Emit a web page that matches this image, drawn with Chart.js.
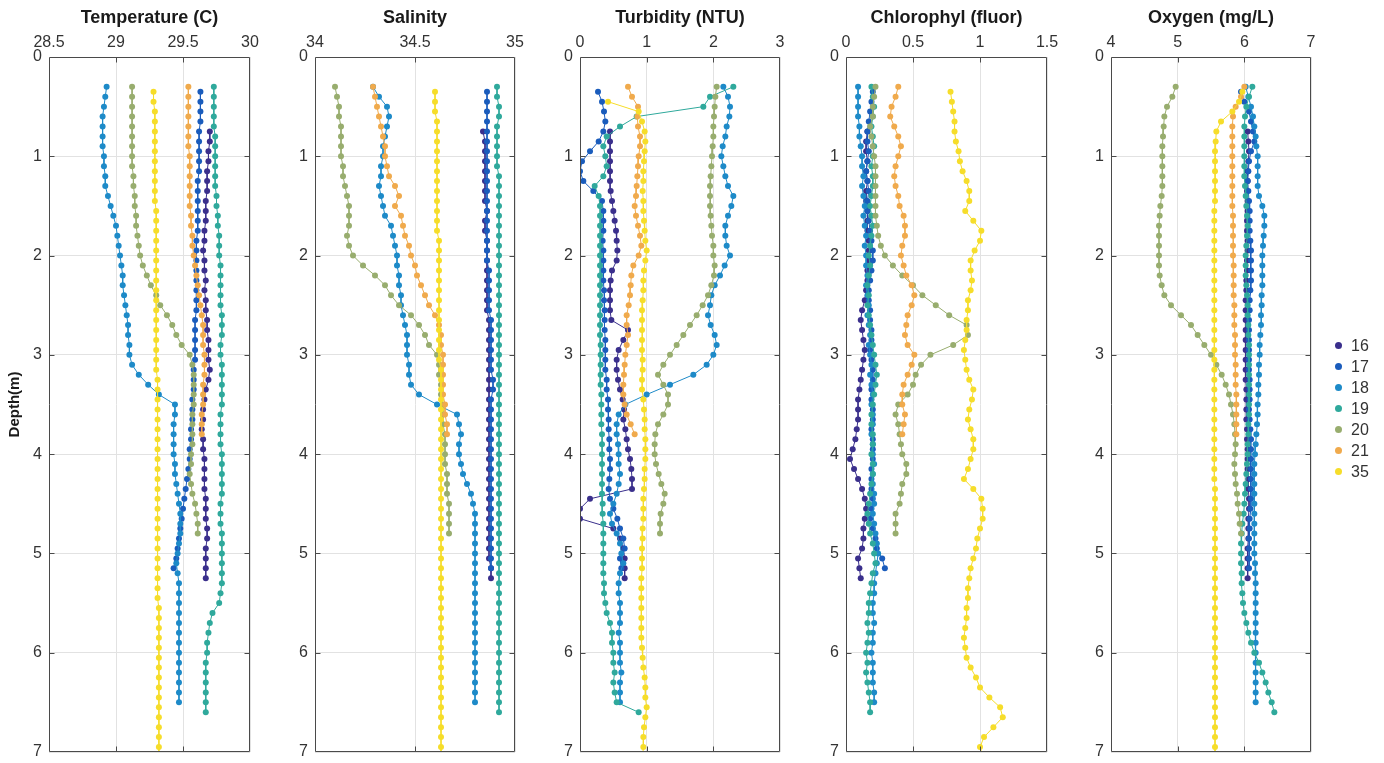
<!DOCTYPE html>
<html><head><meta charset="utf-8">
<script src="https://cdn.jsdelivr.net/npm/chart.js@4.4.1/dist/chart.umd.min.js"></script>
<style>
html,body{margin:0;padding:0;background:#fff;}
body{width:1384px;height:763px;position:relative;overflow:hidden;font-family:"Liberation Sans",Arial,sans-serif;}
canvas.pc{position:absolute;top:0;}
#legend{position:absolute;left:1330px;top:334.5px;}
.li{height:21px;line-height:21px;font-size:16px;color:#333;position:relative;padding-left:21px;white-space:nowrap;}
.li .dot{position:absolute;left:4.5px;top:7px;width:7px;height:7px;border-radius:50%;}
</style></head><body>
<canvas class="pc" id="c0"></canvas>
<canvas class="pc" id="c1"></canvas>
<canvas class="pc" id="c2"></canvas>
<canvas class="pc" id="c3"></canvas>
<canvas class="pc" id="c4"></canvas>
<div id="legend"></div>
<script>
// ---------- stations / depths ----------
const stations = ['16','17','18','19','20','21','35'];
const stationColors = ['#3a2f8c','#1a5cbc','#1d8ac8','#2fa99c','#98ad6e','#f0aa4c','#f6dd2a'];

const d16 = [0.75,0.85,0.95,1.05,1.15,1.25,1.35,1.45,1.55,1.65,1.75,1.85,1.95,2.05,2.15,2.25,2.35,2.45,2.55,2.65,2.75,2.85,2.95,3.05,3.15,3.25,3.35,3.45,3.55,3.65,3.75,3.85,3.95,4.05,4.15,4.25,4.35,4.45,4.55,4.65,4.75,4.85,4.95,5.05,5.15,5.25];
const d17 = [0.35,0.45,0.55,0.65,0.75,0.85,0.95,1.05,1.15,1.25,1.35,1.45,1.55,1.65,1.75,1.85,1.95,2.05,2.15,2.25,2.35,2.45,2.55,2.65,2.75,2.85,2.95,3.05,3.15,3.25,3.35,3.45,3.55,3.65,3.75,3.85,3.95,4.05,4.15,4.25,4.35,4.45,4.55,4.65,4.75,4.85,4.95,5.05,5.15];
const d18 = [0.3,0.4,0.5,0.6,0.7,0.8,0.9,1.0,1.1,1.2,1.3,1.4,1.5,1.6,1.7,1.8,1.9,2.0,2.1,2.2,2.3,2.4,2.5,2.6,2.7,2.8,2.9,3.0,3.1,3.2,3.3,3.4,3.5,3.6,3.7,3.8,3.9,4.0,4.1,4.2,4.3,4.4,4.5,4.6,4.7,4.8,4.9,5.0,5.1,5.2,5.3,5.4,5.5,5.6,5.7,5.8,5.9,6.0,6.1,6.2,6.3,6.4,6.5];
const d19 = [0.3,0.4,0.5,0.6,0.7,0.8,0.9,1.0,1.1,1.2,1.3,1.4,1.5,1.6,1.7,1.8,1.9,2.0,2.1,2.2,2.3,2.4,2.5,2.6,2.7,2.8,2.9,3.0,3.1,3.2,3.3,3.4,3.5,3.6,3.7,3.8,3.9,4.0,4.1,4.2,4.3,4.4,4.5,4.6,4.7,4.8,4.9,5.0,5.1,5.2,5.3,5.4,5.5,5.6,5.7,5.8,5.9,6.0,6.1,6.2,6.3,6.4,6.5,6.6];
const d20 = [0.3,0.4,0.5,0.6,0.7,0.8,0.9,1.0,1.1,1.2,1.3,1.4,1.5,1.6,1.7,1.8,1.9,2.0,2.1,2.2,2.3,2.4,2.5,2.6,2.7,2.8,2.9,3.0,3.1,3.2,3.3,3.4,3.5,3.6,3.7,3.8,3.9,4.0,4.1,4.2,4.3,4.4,4.5,4.6,4.7,4.8];
const d21 = [0.3,0.4,0.5,0.6,0.7,0.8,0.9,1.0,1.1,1.2,1.3,1.4,1.5,1.6,1.7,1.8,1.9,2.0,2.1,2.2,2.3,2.4,2.5,2.6,2.7,2.8,2.9,3.0,3.1,3.2,3.3,3.4,3.5,3.6,3.7,3.8];
const d35 = [0.35,0.45,0.55,0.65,0.75,0.85,0.95,1.05,1.15,1.25,1.35,1.45,1.55,1.65,1.75,1.85,1.95,2.05,2.15,2.25,2.35,2.45,2.55,2.65,2.75,2.85,2.95,3.05,3.15,3.25,3.35,3.45,3.55,3.65,3.75,3.85,3.95,4.05,4.15,4.25,4.35,4.45,4.55,4.65,4.75,4.85,4.95,5.05,5.15,5.25,5.35,5.45,5.55,5.65,5.75,5.85,5.95,6.05,6.15,6.25,6.35,6.45,6.55,6.65,6.75,6.85,6.95,7.05];
const stationDepths = [d16,d17,d18,d19,d20,d21,d35];

// ---------- Temperature (C) ----------
const T16 = [29.70,29.70,29.69,29.69,29.68,29.68,29.68,29.67,29.67,29.67,29.66,29.66,29.65,29.66,29.66,29.67,29.66,29.67,29.67,29.68,29.68,29.69,29.69,29.69,29.70,29.69,29.67,29.66,29.65,29.65,29.64,29.65,29.65,29.66,29.66,29.66,29.66,29.67,29.67,29.67,29.68,29.68,29.67,29.67,29.67,29.67];
const T17 = [29.63,29.63,29.63,29.63,29.62,29.62,29.62,29.62,29.62,29.61,29.61,29.61,29.61,29.61,29.61,29.60,29.60,29.60,29.60,29.60,29.60,29.60,29.60,29.59,29.59,29.59,29.59,29.59,29.58,29.58,29.58,29.57,29.57,29.57,29.56,29.56,29.55,29.55,29.54,29.53,29.52,29.51,29.50,29.49,29.48,29.47,29.46,29.45,29.43];
const T18 = [28.93,28.92,28.91,28.90,28.90,28.90,28.90,28.91,28.91,28.92,28.92,28.94,28.96,28.98,29.00,29.01,29.02,29.03,29.04,29.05,29.05,29.06,29.07,29.08,29.09,29.09,29.10,29.10,29.12,29.17,29.24,29.32,29.44,29.44,29.43,29.43,29.43,29.43,29.44,29.44,29.45,29.46,29.47,29.48,29.48,29.48,29.47,29.46,29.45,29.46,29.47,29.47,29.47,29.47,29.47,29.47,29.47,29.47,29.47,29.47,29.47,29.47,29.47];
const T19 = [29.73,29.73,29.73,29.73,29.73,29.74,29.74,29.74,29.74,29.74,29.74,29.75,29.75,29.76,29.76,29.77,29.77,29.77,29.78,29.78,29.78,29.78,29.78,29.79,29.79,29.79,29.78,29.78,29.79,29.79,29.79,29.79,29.79,29.78,29.78,29.78,29.78,29.79,29.79,29.79,29.79,29.79,29.78,29.78,29.78,29.79,29.79,29.79,29.79,29.79,29.79,29.78,29.77,29.72,29.70,29.69,29.68,29.68,29.67,29.67,29.67,29.67,29.67,29.67];
const T20 = [29.12,29.12,29.12,29.12,29.12,29.12,29.12,29.12,29.12,29.13,29.13,29.14,29.14,29.15,29.15,29.16,29.17,29.18,29.20,29.23,29.26,29.30,29.33,29.38,29.42,29.45,29.49,29.55,29.57,29.58,29.58,29.58,29.58,29.57,29.57,29.57,29.57,29.56,29.56,29.55,29.56,29.57,29.59,29.60,29.61,29.61];
const T21 = [29.54,29.54,29.54,29.54,29.54,29.54,29.54,29.55,29.55,29.55,29.55,29.55,29.55,29.56,29.56,29.57,29.57,29.58,29.59,29.60,29.61,29.62,29.63,29.64,29.65,29.65,29.65,29.66,29.66,29.66,29.65,29.65,29.65,29.64,29.64,29.64];
const T35 = [29.28,29.28,29.29,29.29,29.29,29.29,29.29,29.29,29.29,29.29,29.29,29.29,29.30,29.30,29.30,29.30,29.30,29.30,29.30,29.30,29.30,29.30,29.30,29.30,29.30,29.30,29.30,29.30,29.30,29.31,29.31,29.31,29.31,29.31,29.31,29.31,29.31,29.31,29.31,29.31,29.31,29.31,29.31,29.31,29.31,29.31,29.31,29.31,29.31,29.31,29.31,29.31,29.32,29.32,29.32,29.32,29.32,29.32,29.32,29.32,29.32,29.32,29.32,29.32,29.32,29.32,29.32,29.32];

// ---------- Salinity ----------
const S16 = [34.84,34.85,34.85,34.85,34.85,34.85,34.85,34.85,34.86,34.85,34.85,34.86,34.86,34.86,34.86,34.86,34.86,34.86,34.86,34.87,34.87,34.87,34.87,34.87,34.87,34.87,34.87,34.87,34.87,34.87,34.87,34.87,34.87,34.87,34.87,34.87,34.87,34.87,34.87,34.87,34.87,34.87,34.87,34.87,34.88,34.88];
const S17 = [34.86,34.86,34.86,34.86,34.86,34.86,34.86,34.86,34.86,34.86,34.86,34.86,34.86,34.86,34.86,34.86,34.86,34.86,34.87,34.87,34.87,34.87,34.87,34.88,34.88,34.88,34.88,34.88,34.88,34.89,34.89,34.88,34.88,34.88,34.88,34.88,34.88,34.88,34.88,34.88,34.88,34.88,34.88,34.88,34.88,34.88,34.88,34.88,34.88];
const S18 = [34.29,34.32,34.36,34.37,34.36,34.35,34.34,34.34,34.33,34.33,34.32,34.33,34.34,34.35,34.38,34.39,34.40,34.41,34.41,34.42,34.42,34.43,34.43,34.44,34.45,34.46,34.46,34.46,34.47,34.47,34.48,34.52,34.61,34.71,34.72,34.73,34.72,34.72,34.73,34.74,34.76,34.78,34.79,34.80,34.80,34.80,34.80,34.80,34.80,34.80,34.80,34.80,34.80,34.80,34.80,34.80,34.80,34.80,34.80,34.80,34.80,34.80,34.80];
const S19 = [34.91,34.91,34.92,34.92,34.91,34.91,34.91,34.91,34.91,34.92,34.92,34.92,34.92,34.92,34.92,34.92,34.92,34.92,34.92,34.92,34.92,34.92,34.92,34.92,34.92,34.92,34.92,34.92,34.92,34.92,34.92,34.92,34.92,34.92,34.92,34.92,34.92,34.92,34.92,34.92,34.92,34.92,34.92,34.92,34.92,34.92,34.92,34.92,34.92,34.92,34.92,34.92,34.92,34.92,34.92,34.92,34.92,34.92,34.92,34.92,34.92,34.92,34.92,34.92];
const S20 = [34.10,34.11,34.12,34.12,34.13,34.13,34.13,34.13,34.14,34.14,34.15,34.16,34.17,34.17,34.17,34.16,34.17,34.19,34.24,34.30,34.35,34.38,34.42,34.48,34.52,34.55,34.57,34.61,34.62,34.62,34.63,34.63,34.64,34.64,34.64,34.65,34.65,34.65,34.65,34.66,34.66,34.66,34.67,34.67,34.67,34.67];
const S21 = [34.29,34.30,34.31,34.32,34.33,34.34,34.35,34.35,34.36,34.37,34.40,34.42,34.40,34.43,34.44,34.45,34.47,34.48,34.50,34.51,34.53,34.55,34.57,34.60,34.62,34.63,34.63,34.64,34.64,34.64,34.64,34.64,34.65,34.65,34.66,34.66];
const S35 = [34.60,34.60,34.60,34.61,34.61,34.61,34.61,34.61,34.61,34.61,34.61,34.61,34.61,34.61,34.61,34.62,34.62,34.62,34.62,34.62,34.62,34.62,34.62,34.62,34.62,34.62,34.62,34.62,34.63,34.63,34.63,34.63,34.63,34.63,34.63,34.63,34.63,34.63,34.63,34.63,34.63,34.63,34.63,34.63,34.63,34.63,34.63,34.63,34.63,34.63,34.63,34.63,34.63,34.63,34.63,34.63,34.63,34.63,34.63,34.63,34.63,34.63,34.63,34.63,34.63,34.63,34.63,34.63];

// ---------- Turbidity (NTU) ----------
const U16 = [0.45,0.45,0.45,0.45,0.45,0.45,0.46,0.48,0.50,0.52,0.54,0.55,0.56,0.55,0.48,0.46,0.45,0.45,0.45,0.47,0.72,0.65,0.58,0.55,0.55,0.57,0.60,0.64,0.66,0.65,0.68,0.70,0.72,0.75,0.77,0.78,0.78,0.15,0.00,0.00,0.50,0.60,0.65,0.67,0.67,0.67];
const U17 = [0.27,0.33,0.36,0.38,0.35,0.28,0.15,0.03,0.00,0.05,0.20,0.33,0.35,0.35,0.35,0.34,0.35,0.35,0.35,0.35,0.36,0.36,0.37,0.37,0.37,0.38,0.38,0.38,0.38,0.40,0.40,0.42,0.42,0.43,0.43,0.44,0.44,0.45,0.45,0.44,0.43,0.45,0.50,0.56,0.60,0.65,0.67,0.60,0.62];
const U18 = [2.15,2.22,2.25,2.24,2.20,2.18,2.14,2.12,2.15,2.18,2.22,2.30,2.27,2.22,2.18,2.18,2.20,2.25,2.17,2.10,2.02,1.97,1.95,1.92,1.96,2.02,2.05,2.00,1.90,1.70,1.35,1.00,0.68,0.58,0.55,0.55,0.57,0.58,0.58,0.60,0.58,0.55,0.50,0.45,0.48,0.55,0.60,0.62,0.65,0.60,0.58,0.58,0.60,0.60,0.60,0.58,0.60,0.60,0.60,0.62,0.60,0.60,0.60];
const U19 = [2.30,1.95,1.85,0.85,0.60,0.40,0.35,0.38,0.40,0.35,0.22,0.28,0.30,0.30,0.30,0.30,0.30,0.30,0.30,0.30,0.30,0.30,0.30,0.30,0.30,0.30,0.31,0.31,0.31,0.31,0.31,0.32,0.32,0.32,0.32,0.33,0.33,0.33,0.33,0.33,0.33,0.33,0.34,0.34,0.35,0.35,0.35,0.35,0.35,0.35,0.36,0.36,0.38,0.40,0.45,0.48,0.48,0.50,0.50,0.52,0.50,0.52,0.55,0.88];
const U20 = [2.05,2.03,2.02,2.01,2.00,2.00,1.99,1.98,1.97,1.96,1.95,1.95,1.95,1.96,1.97,1.98,2.00,2.00,2.02,2.01,1.97,1.92,1.84,1.75,1.65,1.55,1.45,1.35,1.25,1.17,1.25,1.32,1.32,1.25,1.17,1.13,1.12,1.12,1.14,1.18,1.22,1.27,1.25,1.21,1.20,1.20];
const U21 = [0.72,0.78,0.87,0.86,0.87,0.90,0.90,0.88,0.87,0.86,0.85,0.84,0.82,0.84,0.87,0.90,0.92,0.88,0.80,0.77,0.76,0.75,0.73,0.70,0.70,0.72,0.70,0.68,0.67,0.66,0.65,0.65,0.67,0.70,0.76,0.82];
const U35 = [null,0.42,0.88,0.93,0.97,0.98,0.97,0.96,0.95,0.95,0.94,0.95,0.95,0.96,0.97,0.98,1.00,0.98,0.96,0.95,0.95,0.94,0.93,0.93,0.93,0.93,0.93,0.94,0.94,0.93,0.93,0.95,0.96,0.97,0.97,0.98,0.98,0.98,0.97,0.97,0.96,0.95,0.95,0.95,0.94,0.94,0.93,0.93,0.93,0.92,0.92,0.92,0.92,0.92,0.92,0.92,0.93,0.94,0.95,0.97,0.98,0.98,1.00,0.98,0.96,0.95,0.95,0.94];

// ---------- Chlorophyl (fluor) ----------
const C16 = [0.16,0.15,0.15,0.16,0.15,0.16,0.15,0.15,0.16,0.16,0.16,0.17,0.17,0.17,0.16,0.16,0.15,0.14,0.12,0.11,0.12,0.13,0.14,0.13,0.12,0.11,0.10,0.09,0.09,0.09,0.08,0.07,0.05,0.03,0.06,0.09,0.12,0.14,0.15,0.14,0.13,0.13,0.12,0.09,0.10,0.11];
const C17 = [0.20,0.19,0.18,0.17,0.16,0.16,0.17,0.16,0.15,0.16,0.17,0.16,0.16,0.17,0.18,0.19,0.20,0.20,0.19,0.18,0.17,0.17,0.18,0.18,0.19,0.19,0.18,0.19,0.20,0.20,0.19,0.19,0.20,0.20,0.19,0.20,0.20,0.20,0.19,0.19,0.19,0.20,0.19,0.18,0.20,0.22,0.23,0.27,0.29];
const C18 = [0.09,0.09,0.09,0.09,0.10,0.10,0.11,0.12,0.12,0.13,0.12,0.13,0.14,0.13,0.14,0.15,0.14,0.15,0.15,0.16,0.15,0.16,0.17,0.16,0.17,0.18,0.17,0.18,0.19,0.18,0.19,0.20,0.19,0.20,0.20,0.19,0.20,0.20,0.21,0.20,0.20,0.21,0.21,0.20,0.21,0.22,0.23,0.24,0.23,0.22,0.21,0.21,0.20,0.20,0.21,0.20,0.20,0.19,0.20,0.20,0.20,0.21,0.21];
const C19 = [0.19,0.20,0.21,0.20,0.19,0.20,0.21,0.20,0.19,0.20,0.20,0.19,0.18,0.19,0.20,0.19,0.18,0.17,0.18,0.17,0.16,0.17,0.16,0.17,0.18,0.19,0.20,0.21,0.22,0.23,0.22,0.21,0.20,0.19,0.19,0.20,0.20,0.19,0.20,0.20,0.19,0.18,0.17,0.16,0.17,0.18,0.20,0.21,0.22,0.20,0.19,0.18,0.17,0.17,0.16,0.17,0.16,0.15,0.16,0.15,0.16,0.17,0.18,0.18];
const C20 = [0.22,0.21,0.20,0.20,0.18,0.19,0.20,0.21,0.22,0.22,0.22,0.22,0.22,0.22,0.23,0.24,0.26,0.29,0.35,0.42,0.50,0.57,0.67,0.77,0.90,0.91,0.80,0.63,0.56,0.52,0.50,0.46,0.39,0.37,0.39,0.40,0.41,0.42,0.45,0.45,0.42,0.41,0.40,0.37,0.37,0.37];
const C21 = [0.39,0.37,0.34,0.33,0.36,0.39,0.41,0.39,0.37,0.36,0.37,0.39,0.40,0.43,0.44,0.44,0.42,0.41,0.43,0.45,0.49,0.51,0.49,0.46,0.45,0.44,0.46,0.51,0.49,0.46,0.43,0.42,0.42,0.44,0.43,0.42];
const C35 = [0.78,0.79,0.80,0.81,0.81,0.82,0.84,0.85,0.87,0.90,0.92,0.92,0.89,0.95,1.01,1.00,0.96,0.93,0.93,0.94,0.93,0.91,0.91,0.90,0.90,0.89,0.88,0.89,0.90,0.92,0.95,0.94,0.92,0.91,0.93,0.95,0.95,0.93,0.91,0.88,0.95,1.01,1.02,1.02,1.00,0.98,0.97,0.95,0.93,0.92,0.91,0.91,0.90,0.90,0.89,0.88,0.89,0.90,0.93,0.97,1.00,1.07,1.15,1.17,1.10,1.03,1.00,1.02];

// ---------- Oxygen (mg/L) ----------
const O16 = [6.05,6.06,6.07,6.06,6.05,6.05,6.04,6.05,6.05,6.04,6.04,6.05,6.05,6.04,6.04,6.03,6.03,6.02,6.02,6.02,6.02,6.02,6.02,6.02,6.02,6.02,6.03,6.03,6.03,6.03,6.04,6.04,6.05,6.05,6.05,6.06,6.06,6.07,6.07,6.06,6.06,6.06,6.05,6.05,6.05,6.05];
const O17 = [5.95,6.00,6.07,6.10,6.13,6.15,6.10,6.07,6.06,6.05,6.06,6.07,6.08,6.08,6.08,6.09,6.10,6.10,6.10,6.10,6.09,6.08,6.08,6.07,6.07,6.07,6.07,6.07,6.07,6.08,6.08,6.08,6.07,6.08,6.09,6.10,6.10,6.10,6.10,6.10,6.10,6.10,6.09,6.08,6.08,6.07,6.07,6.07,6.07];
const O18 = [6.02,6.06,6.10,6.13,6.15,6.17,6.18,6.20,6.20,6.20,6.20,6.22,6.27,6.30,6.30,6.29,6.28,6.27,6.27,6.27,6.27,6.26,6.26,6.25,6.25,6.24,6.23,6.23,6.22,6.22,6.21,6.21,6.20,6.20,6.19,6.18,6.17,6.16,6.15,6.15,6.15,6.15,6.15,6.15,6.15,6.15,6.15,6.15,6.16,6.16,6.17,6.17,6.17,6.17,6.17,6.17,6.17,6.17,6.17,6.17,6.17,6.17,6.17];
const O19 = [6.12,6.07,6.03,6.01,6.00,6.00,6.00,6.00,6.00,6.00,6.01,6.02,6.03,6.04,6.05,6.04,6.03,6.02,6.02,6.02,6.03,6.04,6.05,6.05,6.06,6.06,6.07,6.07,6.07,6.07,6.07,6.07,6.07,6.07,6.06,6.06,6.05,6.05,6.04,6.03,6.02,6.01,6.00,5.99,5.97,5.96,5.95,5.95,5.95,5.96,5.96,5.97,5.98,6.00,6.03,6.06,6.10,6.15,6.22,6.27,6.32,6.36,6.41,6.45];
const O20 = [4.97,4.92,4.84,4.80,4.79,4.78,4.77,4.77,4.77,4.77,4.77,4.76,4.74,4.73,4.72,4.72,4.72,4.72,4.72,4.73,4.76,4.80,4.90,5.05,5.20,5.30,5.40,5.50,5.58,5.66,5.72,5.77,5.80,5.83,5.85,5.86,5.87,5.86,5.85,5.86,5.87,5.89,5.90,5.92,5.93,5.95];
const O21 = [6.00,5.95,5.87,5.83,5.82,5.82,5.82,5.82,5.82,5.82,5.82,5.82,5.82,5.83,5.83,5.83,5.83,5.83,5.84,5.84,5.84,5.84,5.85,5.85,5.85,5.86,5.86,5.86,5.87,5.87,5.87,5.88,5.88,5.88,5.88,5.88];
const O35 = [5.97,5.92,5.82,5.65,5.58,5.57,5.56,5.56,5.56,5.56,5.56,5.56,5.55,5.55,5.55,5.55,5.55,5.55,5.55,5.55,5.55,5.55,5.55,5.55,5.55,5.55,5.55,5.55,5.55,5.55,5.55,5.55,5.55,5.55,5.55,5.55,5.55,5.55,5.55,5.55,5.56,5.56,5.56,5.56,5.56,5.56,5.56,5.56,5.56,5.56,5.56,5.56,5.56,5.56,5.56,5.56,5.56,5.56,5.56,5.56,5.56,5.56,5.56,5.56,5.56,5.56,5.56,5.56];

// ---------- panel titles and axis ranges ----------
const panelTitles = ['Temperature (C)','Salinity','Turbidity (NTU)','Chlorophyl (fluor)','Oxygen (mg/L)'];
const panelMin = [28.5, 34, 0, 0, 4];
const panelMax = [30, 35, 3, 1.5, 7];
const panelStep = [0.5, 0.5, 1, 0.5, 1];
const panelValues = [
  [T16,T17,T18,T19,T20,T21,T35],
  [S16,S17,S18,S19,S20,S21,S35],
  [U16,U17,U18,U19,U20,U21,U35],
  [C16,C17,C18,C19,C20,C21,C35],
  [O16,O17,O18,O19,O20,O21,O35]
];
const depthTicksMax = 7;
const yAxisTitle = 'Depth(m)';

// ---------- layout (pixels) ----------
const plotLeft = [49, 315, 580, 846, 1111];
const plotRight = [250, 515, 780, 1047, 1311];
const Y_AXIS_W = 48, RIGHT_PAD = 34, PLOT_TOP = 57, PLOT_BOTTOM = 752, BOTTOM_PAD = 34;
const H = PLOT_BOTTOM + BOTTOM_PAD;

Chart.defaults.font.family = "'Liberation Sans', Arial, Helvetica, sans-serif";

const frame = {
  id: 'frame',
  afterDraw(chart) {
    const {ctx, chartArea: a, scales} = chart;
    ctx.save();
    ctx.strokeStyle = '#4a4a4a';
    ctx.lineWidth = 1;
    ctx.beginPath();
    const L = Math.round(a.left) + 0.5, R = Math.round(a.right) - 0.5;
    const T = Math.round(a.top) + 0.5, B = Math.round(a.bottom) - 0.5;
    ctx.rect(L, T, R - L, B - T);
    const tl = 5;
    scales.x.ticks.forEach(t => {
      if (t.value <= scales.x.min || t.value >= scales.x.max) return;
      const px = Math.round(scales.x.getPixelForValue(t.value)) + 0.5;
      ctx.moveTo(px, T); ctx.lineTo(px, T + tl);
      ctx.moveTo(px, B); ctx.lineTo(px, B - tl);
    });
    scales.y.ticks.forEach(t => {
      if (t.value <= scales.y.min || t.value >= scales.y.max) return;
      const py = Math.round(scales.y.getPixelForValue(t.value)) + 0.5;
      ctx.moveTo(L, py); ctx.lineTo(L + tl, py);
      ctx.moveTo(R, py); ctx.lineTo(R - tl, py);
    });
    ctx.stroke();
    ctx.restore();
  }
};

const fmt = v => String(Math.round(v * 100) / 100);

for (let p = 0; p < 5; p++) {
  const cv = document.getElementById('c' + p);
  const W = plotRight[p] - plotLeft[p];
  cv.width = Y_AXIS_W + W + RIGHT_PAD;
  cv.height = H;
  cv.style.left = (plotLeft[p] - Y_AXIS_W) + 'px';
  cv.style.width = cv.width + 'px';
  cv.style.height = H + 'px';

  const datasets = stations.map((st, i) => ({
    label: st,
    data: stationDepths[i].map((d, k) => ({x: panelValues[p][i][k], y: d})),
    borderColor: stationColors[i],
    backgroundColor: stationColors[i],
    borderWidth: 1,
    pointRadius: 3,
    pointHoverRadius: 3,
    pointBorderWidth: 0,
    pointBackgroundColor: stationColors[i],
    tension: 0,
    spanGaps: false,
    clip: 0,
    order: stations.length - 1 - i
  }));

  new Chart(cv, {
    type: 'line',
    data: {datasets},
    options: {
      responsive: false,
      animation: false,
      devicePixelRatio: 1,
      events: [],
      layout: {padding: {left: 0, top: 0, right: RIGHT_PAD, bottom: BOTTOM_PAD}},
      plugins: {legend: {display: false}, tooltip: {enabled: false}, title: {display: false}},
      scales: {
        x: {
          type: 'linear', position: 'top',
          min: panelMin[p], max: panelMax[p],
          ticks: {stepSize: panelStep[p], padding: 5, color: '#333', font: {size: 16}, maxRotation: 0, autoSkip: false, callback: fmt},
          grid: {color: '#e2e2e2', lineWidth: 1, drawTicks: false},
          border: {display: false},
          title: {display: true, text: panelTitles[p], color: '#1a1a1a', font: {size: 18, weight: 'bold'}, padding: {top: 7.2, bottom: 0}},
          afterFit(s) { s.height = PLOT_TOP; }
        },
        y: {
          type: 'linear', reverse: true, min: 0, max: depthTicksMax,
          ticks: {stepSize: 1, padding: 7, color: '#333', font: {size: 16}, callback: fmt},
          grid: {color: '#e2e2e2', lineWidth: 1, drawTicks: false},
          border: {display: false},
          title: {display: p === 0, text: yAxisTitle, color: '#1a1a1a', font: {size: 15, weight: 'bold'}, padding: {top: 5, bottom: 0}},
          afterFit(s) { s.width = Y_AXIS_W; }
        }
      }
    },
    plugins: [frame]
  });
}

// ---------- legend ----------
const lg = document.getElementById('legend');
stations.forEach((st, i) => {
  const row = document.createElement('div');
  row.className = 'li';
  const dot = document.createElement('span');
  dot.className = 'dot';
  dot.style.background = stationColors[i];
  row.appendChild(dot);
  row.appendChild(document.createTextNode(st));
  lg.appendChild(row);
});
</script>
</body></html>
